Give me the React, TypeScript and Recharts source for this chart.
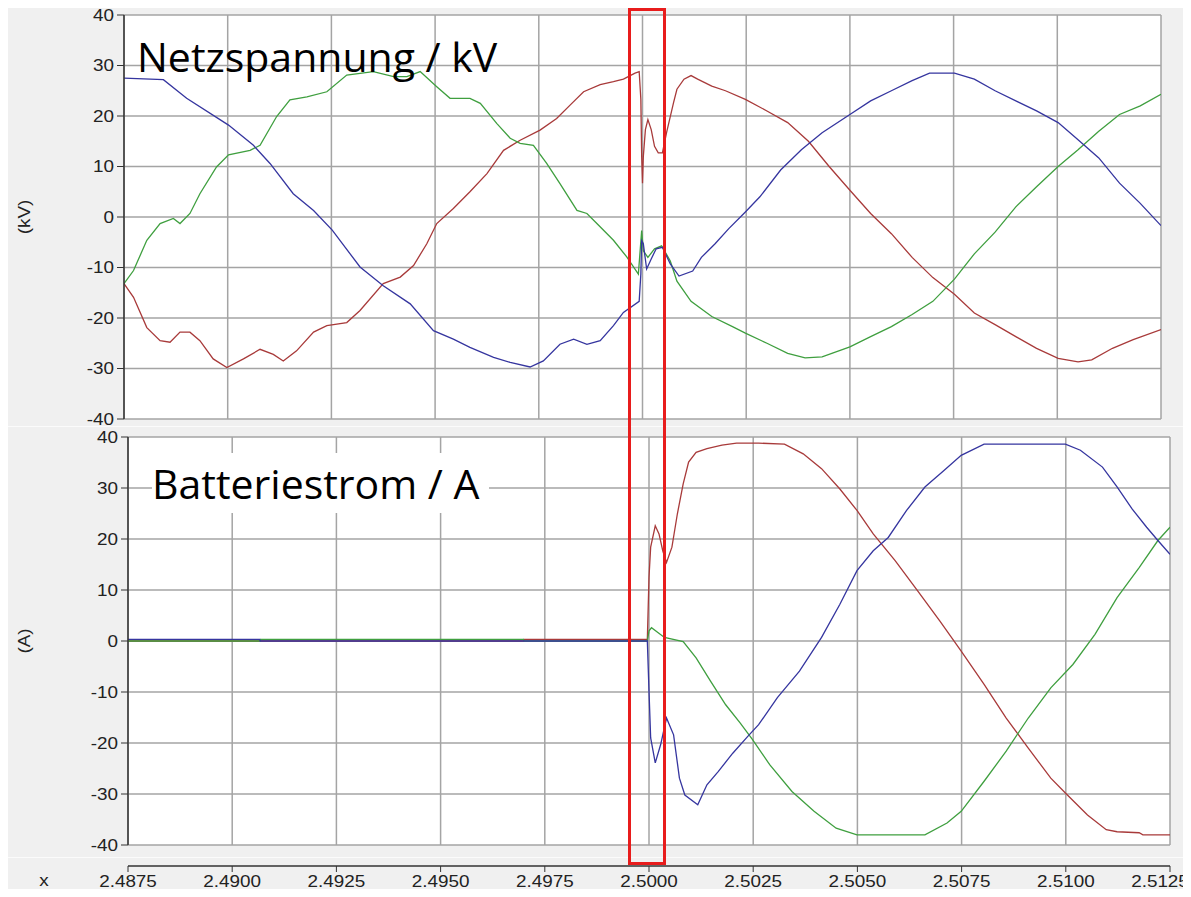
import React from 'react';
import { LineChart, Line, XAxis, YAxis, CartesianGrid } from 'recharts';

// ---------- axis ticks ----------
const X_TICKS = [2.4875, 2.49, 2.4925, 2.495, 2.4975, 2.5, 2.5025, 2.505, 2.5075, 2.51, 2.5125];
const Y_TICKS = [-40, -30, -20, -10, 0, 10, 20, 30, 40];

// ---------- Netzspannung (kV) ----------
const vRedT = [2.4875, 2.48773, 2.48805, 2.48837, 2.48861, 2.48885, 2.48909, 2.48933, 2.48965, 2.48998, 2.49038, 2.49078, 2.4911, 2.49134, 2.49166, 2.49207, 2.49239, 2.49287, 2.49319, 2.49375, 2.49416, 2.49448, 2.4948, 2.49504, 2.49544, 2.49584, 2.49625, 2.49665, 2.49705, 2.49753, 2.49793, 2.49826, 2.49858, 2.49898, 2.4993, 2.49954, 2.49982, 2.49992, 2.49996, 2.49998, 2.5, 2.50002, 2.50007, 2.50013, 2.50021, 2.50029, 2.50038, 2.50048, 2.50058, 2.50075, 2.50083, 2.501, 2.50117, 2.50133, 2.50167, 2.502, 2.50248, 2.503, 2.5035, 2.504, 2.5045, 2.505, 2.5055, 2.506, 2.5065, 2.507, 2.50752, 2.508, 2.5085, 2.509, 2.5095, 2.51002, 2.5105, 2.51083, 2.51133, 2.51183, 2.5125];
const vRedV = [-13.2, -15.9, -21.9, -24.5, -24.8, -22.8, -22.8, -24.5, -28.1, -29.8, -28.1, -26.2, -27.2, -28.5, -26.5, -22.8, -21.5, -20.9, -18.5, -13.2, -11.9, -9.6, -5.3, -1.3, 1.7, 5.0, 8.6, 13.2, 15.2, 17.2, 19.5, 22.2, 24.8, 26.2, 26.8, 27.3, 28.5, 28.8, 23.3, 12.0, 6.7, 12.0, 17.3, 19.3, 17.3, 14.0, 12.7, 12.7, 16.7, 22.7, 25.3, 27.3, 28.0, 27.3, 25.9, 25.0, 23.3, 21.0, 18.7, 15.0, 10.0, 5.3, 0.7, -3.3, -8.0, -12.0, -15.3, -19.0, -21.3, -23.7, -26.0, -28.0, -28.7, -28.3, -26.0, -24.3, -22.3];

const vBlueT = [2.4875, 2.48845, 2.48901, 2.49002, 2.49062, 2.49102, 2.49158, 2.49207, 2.49252, 2.49319, 2.49375, 2.4944, 2.49496, 2.49544, 2.49584, 2.49641, 2.49681, 2.49729, 2.49761, 2.49801, 2.49834, 2.49866, 2.49898, 2.4993, 2.49954, 2.49992, 2.49996, 2.49998, 2.50002, 2.5001, 2.50021, 2.50033, 2.50048, 2.50067, 2.50088, 2.50121, 2.50142, 2.50175, 2.50208, 2.50248, 2.50283, 2.50333, 2.50383, 2.50433, 2.505, 2.5055, 2.506, 2.5065, 2.50692, 2.50752, 2.508, 2.5085, 2.509, 2.5095, 2.51002, 2.5105, 2.511, 2.5115, 2.512, 2.5125];
const vBlueV = [27.5, 27.2, 23.5, 18.2, 14.2, 10.6, 4.6, 1.3, -2.6, -9.9, -13.6, -17.2, -22.5, -24.2, -25.8, -27.8, -28.8, -29.7, -28.5, -25.2, -24.2, -25.2, -24.5, -21.5, -18.9, -16.7, -11.3, -4.7, -5.3, -10.3, -8.3, -6.3, -6.0, -9.3, -11.7, -10.7, -8.0, -5.3, -2.3, 1.0, 4.0, 9.3, 13.3, 16.7, 20.3, 23.0, 25.0, 27.0, 28.5, 28.5, 27.3, 25.0, 23.0, 21.0, 18.7, 15.3, 11.7, 6.7, 2.7, -1.7];

const vGreenT = [2.4875, 2.48773, 2.48805, 2.48837, 2.48869, 2.48885, 2.48909, 2.48933, 2.48973, 2.49002, 2.49054, 2.49078, 2.49118, 2.4915, 2.49191, 2.49239, 2.49287, 2.49351, 2.494, 2.49432, 2.49464, 2.49504, 2.49536, 2.49584, 2.49609, 2.49649, 2.49681, 2.49705, 2.49737, 2.49769, 2.49801, 2.49842, 2.49866, 2.4989, 2.4993, 2.49962, 2.4999, 2.49998, 2.50002, 2.50013, 2.50029, 2.50046, 2.50067, 2.50083, 2.50117, 2.50167, 2.50217, 2.50248, 2.503, 2.5035, 2.50392, 2.50433, 2.505, 2.5055, 2.506, 2.5065, 2.507, 2.50752, 2.508, 2.5085, 2.509, 2.5095, 2.51002, 2.5105, 2.511, 2.5115, 2.512, 2.5125];
const vGreenV = [-13.2, -10.6, -4.6, -1.3, -0.3, -1.3, 0.7, 4.6, 9.9, 12.3, 13.2, 14.2, 19.9, 23.2, 23.8, 24.8, 28.1, 28.8, 27.8, 27.8, 28.8, 25.8, 23.5, 23.5, 22.5, 18.5, 15.6, 14.6, 14.2, 10.6, 6.6, 1.3, 0.7, -1.3, -4.6, -7.9, -11.3, -2.7, -6.7, -8.0, -6.3, -5.7, -8.7, -12.7, -16.7, -19.7, -21.7, -23.0, -25.0, -27.0, -27.9, -27.7, -25.7, -23.7, -21.7, -19.3, -16.7, -12.3, -7.3, -3.0, 2.0, 6.0, 10.0, 13.3, 17.0, 20.3, 22.0, 24.3];

// ---------- Batteriestrom (A) ----------
const aRedT = [2.4875, 2.49699, 2.497, 2.49996, 2.5, 2.50004, 2.50015, 2.50024, 2.50033, 2.50042, 2.50055, 2.50068, 2.50082, 2.50095, 2.50113, 2.50139, 2.50175, 2.5021, 2.50263, 2.50325, 2.5037, 2.50414, 2.50458, 2.50499, 2.50538, 2.50591, 2.50645, 2.50698, 2.50749, 2.50804, 2.50857, 2.5091, 2.50964, 2.50999, 2.51052, 2.51097, 2.51123, 2.51176, 2.51185, 2.5125];
const aRedV = [0, 0, 0.3, 0.3, 12.5, 18.4, 22.6, 21.0, 17.7, 15.4, 18.4, 24.9, 30.8, 35.1, 37.0, 37.7, 38.4, 38.8, 38.8, 38.6, 36.7, 33.8, 29.8, 25.6, 21.0, 15.7, 9.8, 3.9, -2.0, -8.5, -15.1, -21.0, -26.9, -29.8, -34.1, -37.0, -37.4, -37.6, -38.0, -38.0];

const aBlueT = [2.4875, 2.49066, 2.49067, 2.49996, 2.5, 2.50004, 2.50015, 2.50028, 2.50042, 2.50059, 2.50073, 2.50086, 2.50117, 2.50139, 2.50166, 2.50201, 2.50237, 2.50263, 2.50308, 2.50361, 2.50414, 2.50458, 2.50499, 2.50538, 2.50574, 2.50618, 2.50662, 2.50707, 2.50749, 2.50804, 2.50999, 2.51035, 2.51088, 2.51123, 2.51159, 2.51194, 2.51221, 2.5125];
const aBlueV = [0.3, 0.3, 0, 0, -9.8, -19.0, -23.9, -20.3, -15.1, -18.4, -26.9, -30.2, -32.1, -28.2, -25.6, -22.0, -18.7, -16.4, -11.1, -5.9, 0.7, 7.2, 13.8, 17.7, 20.3, 25.6, 30.2, 33.4, 36.4, 38.6, 38.6, 37.4, 34.1, 30.2, 25.9, 22.3, 19.7, 17.0];

const aGreenT = [2.4875, 2.49067, 2.49068, 2.49699, 2.497, 2.49996, 2.5, 2.50006, 2.50037, 2.50082, 2.50113, 2.50148, 2.50184, 2.50219, 2.50248, 2.5029, 2.50343, 2.50396, 2.50449, 2.50499, 2.50662, 2.50715, 2.50749, 2.50804, 2.50857, 2.5091, 2.50964, 2.51017, 2.5107, 2.51123, 2.51176, 2.51221, 2.5125];
const aGreenV = [0, 0, 0.3, 0.3, 0, 0, 2.0, 2.6, 0.7, -0.1, -3.3, -7.9, -12.5, -16.1, -19.3, -24.3, -29.5, -33.4, -36.7, -38.0, -38.0, -35.7, -33.4, -27.5, -21.6, -15.1, -9.2, -4.6, 1.3, 8.5, 14.4, 19.7, 22.3];

const RED = '#a83a3a';
const GREEN = '#3f9f3f';
const BLUE = '#35359f';

const pts = (t: number[], v: number[]) => t.map((x, i) => ({ t: x, v: v[i] }));

const FONT = '"Liberation Sans", Arial, sans-serif';
const STRETCH = 1.18;

function YTick(props: any) {
  const { x, y, payload } = props;
  return (
    <g transform={`translate(${x},${y}) scale(${STRETCH},1)`}>
      <text x={0} y={0} dy="0.36em" textAnchor="end" fontFamily={FONT} fontSize={16} fill="#222">
        {payload.value}
      </text>
    </g>
  );
}

function XTick(props: any) {
  const { x, y, payload } = props;
  const half = 30;
  const cx = Math.min(x, 1190 - half);
  return (
    <g transform={`translate(${cx},${y}) scale(${STRETCH},1)`}>
      <text x={0} y={0} dy="0.78em" textAnchor="middle" fontFamily={FONT} fontSize={16} fill="#222">
        {Number(payload.value).toFixed(4)}
      </text>
    </g>
  );
}

function UnitLabel(props: any) {
  const { viewBox, value } = props;
  const cy = viewBox.y + viewBox.height / 2;
  const cx = 24;
  return (
    <g transform={`translate(${cx},${cy}) rotate(-90) scale(${STRETCH},1)`}>
      <text x={0} y={0} dy="0.36em" textAnchor="middle" fontFamily={FONT} fontSize={16} fill="#222">
        {value}
      </text>
    </g>
  );
}

type PanelProps = {
  top: number;
  height: number;
  margin: { top: number; right: number; bottom: number; left: number };
  yWidth: number;
  unit: string;
  series: { color: string; data: { t: number; v: number }[] }[];
};

function Panel({ top, height, margin, yWidth, unit, series }: PanelProps) {
  return (
    <div style={{ position: 'absolute', left: 0, top }}>
      <LineChart width={1191} height={height} margin={margin}>
        <CartesianGrid stroke="#a4a4a4" strokeWidth={1.5} fill="#ffffff" />
        <XAxis
          dataKey="t"
          type="number"
          domain={[2.4875, 2.5125]}
          ticks={X_TICKS}
          allowDataOverflow
          hide
        />
        <YAxis
          type="number"
          domain={[-40, 40]}
          ticks={Y_TICKS}
          width={yWidth}
          tickSize={7}
          tickMargin={3}
          axisLine={{ stroke: '#333', strokeWidth: 1.5 }}
          tickLine={{ stroke: '#333' }}
          tick={<YTick />}
          interval={0}
          label={<UnitLabel value={unit} />}
        />
        {series.map((s, i) => (
          <Line
            key={i}
            data={s.data}
            dataKey="v"
            type="linear"
            stroke={s.color}
            strokeWidth={1.3}
            dot={false}
            isAnimationActive={false}
          />
        ))}
      </LineChart>
    </div>
  );
}

export default function App() {
  const bigText: React.CSSProperties = {
    position: 'absolute',
    fontFamily: '"Open Sans", sans-serif',
    fontSize: 41,
    lineHeight: '41px',
    color: '#000',
    whiteSpace: 'nowrap',
  };
  return (
    <div
      style={{
        position: 'relative',
        width: 1191,
        height: 897,
        margin: -8,
        background: '#f0f0f0',
        overflow: 'hidden',
      }}
    >
      <div style={{ position: 'absolute', left: 0, top: 426, width: 1191, height: 1, background: '#fbfbfb' }} />
      <div style={{ position: 'absolute', left: 0, top: 857, width: 1191, height: 1, background: '#fbfbfb' }} />
      <Panel
        top={0}
        height={430}
        margin={{ top: 15, right: 30, bottom: 11, left: 0 }}
        yWidth={124}
        unit="(kV)"
        series={[
          { color: RED, data: pts(vRedT, vRedV) },
          { color: GREEN, data: pts(vGreenT, vGreenV) },
          { color: BLUE, data: pts(vBlueT, vBlueV) },
        ]}
      />
      <Panel
        top={422}
        height={440}
        margin={{ top: 15, right: 21, bottom: 17, left: 0 }}
        yWidth={128}
        unit="(A)"
        series={[
          { color: RED, data: pts(aRedT, aRedV) },
          { color: GREEN, data: pts(aGreenT, aGreenV) },
          { color: BLUE, data: pts(aBlueT, aBlueV) },
        ]}
      />
      <div style={{ position: 'absolute', left: 0, top: 846 }}>
        <LineChart
          width={1191}
          height={51}
          margin={{ top: 0, right: 21, bottom: 0, left: 128 }}
          data={[{ t: 2.4875 }, { t: 2.5125 }]}
        >
          <XAxis
            dataKey="t"
            type="number"
            domain={[2.4875, 2.5125]}
            ticks={X_TICKS}
            interval={0}
            height={31}
            tickSize={6}
            tickMargin={3}
            axisLine={{ stroke: '#333', strokeWidth: 1.5 }}
            tickLine={{ stroke: '#333' }}
            tick={<XTick />}
          />
          <YAxis hide domain={[0, 1]} />
        </LineChart>
      </div>
      <div
        style={{
          position: 'absolute',
          left: 40,
          top: 872,
          fontFamily: FONT,
          fontSize: 16,
          color: '#222',
          transform: `scaleX(${STRETCH})`,
        }}
      >
        x
      </div>
      <div style={{ ...bigText, left: 137, top: 36 }}>Netzspannung / kV</div>
      <div
        style={{
          ...bigText,
          left: 152,
          top: 453,
          height: 50,
          paddingTop: 10,
          paddingRight: 10,
          background: '#ffffff',
        }}
      >
        Batteriestrom / A
      </div>
      <div
        style={{
          position: 'absolute',
          left: 628,
          top: 8,
          width: 32,
          height: 851,
          border: '3px solid #e81c1c',
        }}
      />
    </div>
  );
}
